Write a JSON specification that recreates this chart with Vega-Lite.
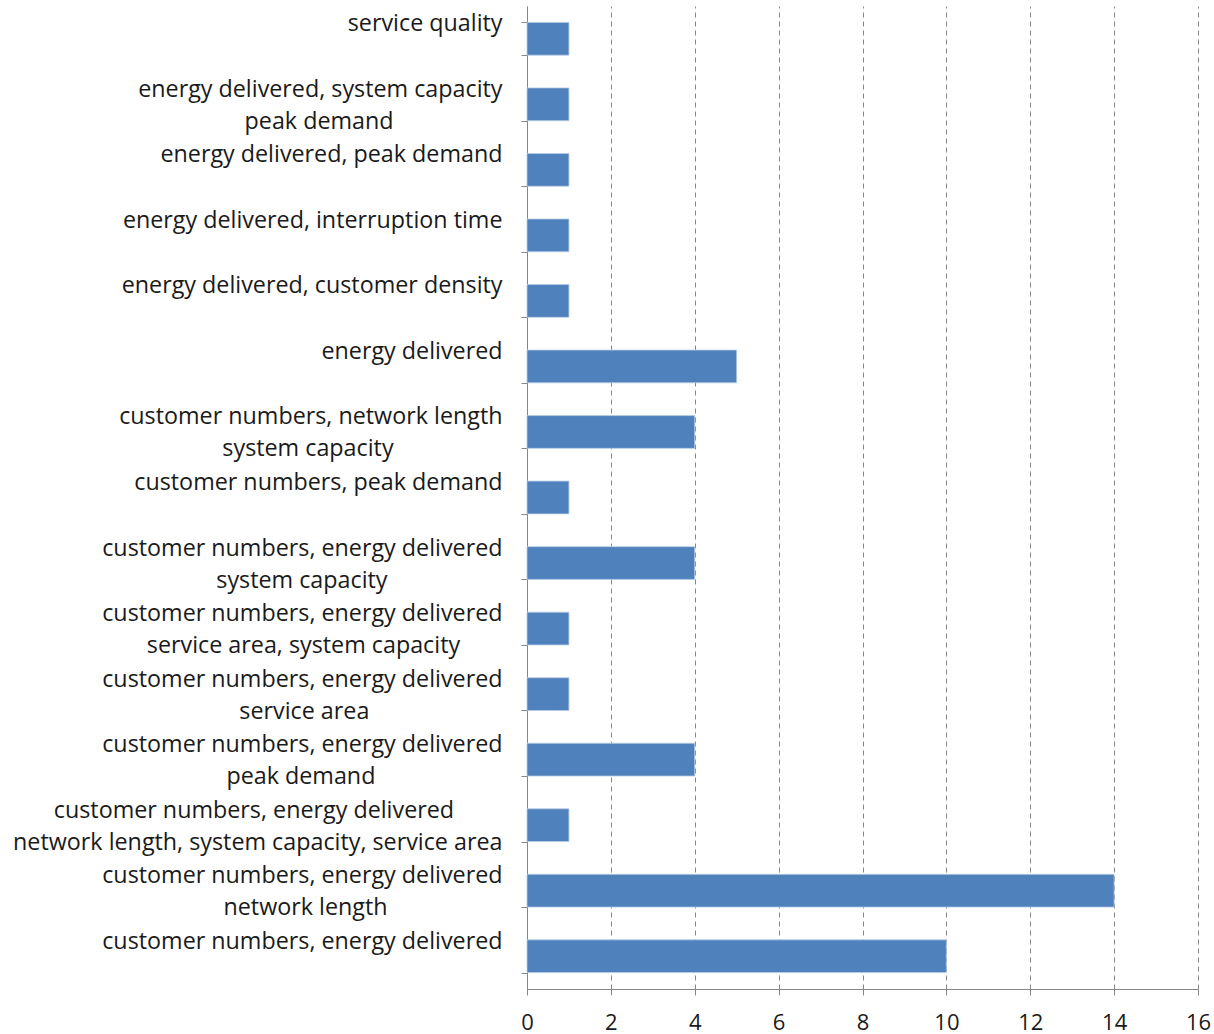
{
  "$schema": "https://vega.github.io/schema/vega-lite/v6.json",
  "autosize": {"type": "none"},
  "width": 671,
  "height": 983,
  "padding": {"left": 527, "top": 6, "right": 16, "bottom": 45},
  "background": "white",
  "data": {
    "values": [
      {"basis": "service quality", "count": 1},
      {"basis": "energy delivered, system capacity\npeak demand", "count": 1},
      {"basis": "energy delivered, peak demand", "count": 1},
      {"basis": "energy delivered, interruption time", "count": 1},
      {"basis": "energy delivered, customer density", "count": 1},
      {"basis": "energy delivered", "count": 5},
      {"basis": "customer numbers, network length\nsystem capacity", "count": 4},
      {"basis": "customer numbers, peak demand", "count": 1},
      {"basis": "customer numbers, energy delivered\nsystem capacity", "count": 4},
      {"basis": "customer numbers, energy delivered\nservice area, system capacity", "count": 1},
      {"basis": "customer numbers, energy delivered\nservice area", "count": 1},
      {"basis": "customer numbers, energy delivered\npeak demand", "count": 4},
      {"basis": "customer numbers, energy delivered\nnetwork length, system capacity, service area", "count": 1},
      {"basis": "customer numbers, energy delivered\nnetwork length", "count": 14},
      {"basis": "customer numbers, energy delivered", "count": 10}
    ]
  },
  "mark": {"type": "bar", "color": "#4F81BD", "stroke": "#B9CDE5", "strokeWidth": 0.8},
  "encoding": {
    "y": {
      "field": "basis",
      "type": "nominal",
      "sort": null,
      "scale": {"paddingInner": 0.5, "paddingOuter": 0.25},
      "axis": {
        "title": null,
        "labelExpr": "indexof(datum.label, '\\n') < 0 ? datum.label : [pad(split(datum.label, '\\n')[0], length(split(datum.label, '\\n')[0]) + max(0, round(((61*length(split(datum.label, '\\n')[1]) - 35.5*length(replace(split(datum.label, '\\n')[1], /[^ ,.ijl]/g, '')) - 24*length(replace(split(datum.label, '\\n')[1], /[^rtf]/g, '')) - 13*length(replace(split(datum.label, '\\n')[1], /[^scz]/g, '')) - 10*length(replace(split(datum.label, '\\n')[1], /[^yvkx]/g, '')) - 5.5*length(replace(split(datum.label, '\\n')[1], /[^eag]/g, '')) + 32*length(replace(split(datum.label, '\\n')[1], /[^mw]/g, ''))) - (61*length(split(datum.label, '\\n')[0]) - 35.5*length(replace(split(datum.label, '\\n')[0], /[^ ,.ijl]/g, '')) - 24*length(replace(split(datum.label, '\\n')[0], /[^rtf]/g, '')) - 13*length(replace(split(datum.label, '\\n')[0], /[^scz]/g, '')) - 10*length(replace(split(datum.label, '\\n')[0], /[^yvkx]/g, '')) - 5.5*length(replace(split(datum.label, '\\n')[0], /[^eag]/g, '')) + 32*length(replace(split(datum.label, '\\n')[0], /[^mw]/g, '')))) / 52)), '\u00a0') + '\u200b', pad(split(datum.label, '\\n')[1], length(split(datum.label, '\\n')[1]) + max(0, round(((61*length(split(datum.label, '\\n')[0]) - 35.5*length(replace(split(datum.label, '\\n')[0], /[^ ,.ijl]/g, '')) - 24*length(replace(split(datum.label, '\\n')[0], /[^rtf]/g, '')) - 13*length(replace(split(datum.label, '\\n')[0], /[^scz]/g, '')) - 10*length(replace(split(datum.label, '\\n')[0], /[^yvkx]/g, '')) - 5.5*length(replace(split(datum.label, '\\n')[0], /[^eag]/g, '')) + 32*length(replace(split(datum.label, '\\n')[0], /[^mw]/g, ''))) - (61*length(split(datum.label, '\\n')[1]) - 35.5*length(replace(split(datum.label, '\\n')[1], /[^ ,.ijl]/g, '')) - 24*length(replace(split(datum.label, '\\n')[1], /[^rtf]/g, '')) - 13*length(replace(split(datum.label, '\\n')[1], /[^scz]/g, '')) - 10*length(replace(split(datum.label, '\\n')[1], /[^yvkx]/g, '')) - 5.5*length(replace(split(datum.label, '\\n')[1], /[^eag]/g, '')) + 32*length(replace(split(datum.label, '\\n')[1], /[^mw]/g, '')))) / 52)), '\u00a0') + '\u200b']",
        "labelAlign": "right",
        "labelBaseline": "alphabetic",
        "labelOffset": -8,
        "labelLineHeight": 32,
        "labelFont": "Open Sans",
        "labelFontSize": 23.3,
        "labelColor": "#1a1a1a",
        "labelPadding": 19,
        "labelLimit": 0,
        "tickBand": "extent",
        "tickSize": 6,
        "tickColor": "#868686",
        "domainColor": "#868686",
        "grid": false
      }
    },
    "x": {
      "field": "count",
      "type": "quantitative",
      "scale": {"domain": [0, 16], "nice": false},
      "axis": {
        "title": null,
        "values": [0, 2, 4, 6, 8, 10, 12, 14, 16],
        "labelFont": "Open Sans",
        "labelFontSize": 22,
        "labelColor": "#1a1a1a",
        "labelPadding": 17,
        "labelFlush": false,
        "tickSize": 6,
        "tickColor": "#868686",
        "domainColor": "#868686",
        "grid": true,
        "gridColor": "#868686",
        "gridDash": [5, 4],
        "gridWidth": 1
      }
    }
  },
  "config": {"view": {"stroke": null}}
}
